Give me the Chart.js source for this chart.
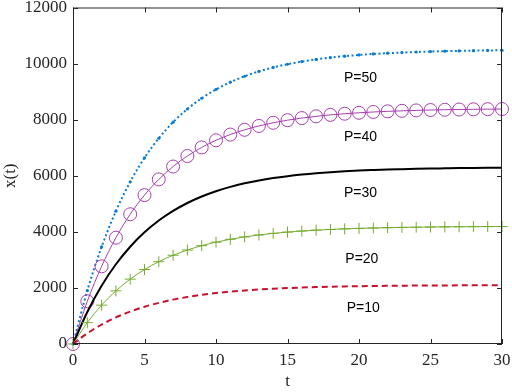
<!DOCTYPE html>
<html>
<head>
<meta charset="utf-8">
<script src="https://cdn.jsdelivr.net/npm/chart.js@4"></script>
<style>
  html, body { margin: 0; padding: 0; background: #fff; }
  #wrap { width: 512px; height: 392px; }
</style>
</head>
<body>
<div id="wrap"><canvas id="trendChart"></canvas></div>
<script>
// time points
const tValues = [0,1,2,3,4,5,6,7,8,9,10,11,12,13,14,15,16,17,18,19,20,21,22,23,24,25,26,27,28,29,30];

// x(t) for each P
const p10 = [0,381,692,948,1156,1327,1467,1582,1676,1753,1816,1867,1910,1944,1972,1995,2014,2030,2043,2053,2062,2069,2074,2079,2083,2086,2088,2091,2092,2094,2095];
const p20 = [0,761,1385,1895,2313,2655,2935,3164,3352,3506,3632,3735,3819,3888,3945,3991,4029,4060,4085,4106,4123,4137,4148,4158,4165,4172,4177,4181,4185,4187,4190];
const p30 = [0,1142,2077,2843,3469,3982,4402,4746,5028,5259,5448,5602,5729,5832,5917,5986,6043,6090,6128,6159,6185,6205,6223,6236,6248,6258,6265,6272,6277,6281,6284];
const p40 = [0,1523,2769,3790,4626,5310,5870,6329,6704,7011,7264,7469,7638,7776,7889,7982,8057,8119,8171,8212,8246,8274,8297,8315,8331,8344,8354,8362,8369,8375,8379];
const p50 = [0,1904,3462,4738,5782,6637,7337,7911,8380,8764,9079,9337,9548,9721,9862,9977,10072,10149,10213,10265,10308,10343,10371,10394,10413,10429,10442,10452,10461,10468,10474];

// curve labels: text, t, x(t)
const labelText = ['P=50', 'P=40', 'P=30', 'P=20', 'P=10'];
const labelT = [20.1, 20.1, 20.1, 20.2, 20.3];
const labelY = [9470, 7370, 5370, 3020, 1280];

const xTicks = [0, 5, 10, 15, 20, 25, 30];
const yTicks = [0, 2000, 4000, 6000, 8000, 10000, 12000];

function toPoints(arr) {
    return arr.map((v, i) => ({ x: tValues[i], y: v }));
}

// box round the plot with inward ticks, plus curve labels
const boxPlugin = {
    id: 'boxPlugin',
    afterDraw(chart) {
        const ctx = chart.ctx;
        const a = chart.chartArea;
        const xs = chart.scales.x;
        const ys = chart.scales.y;
        ctx.save();
        ctx.strokeStyle = '#262626';
        ctx.lineWidth = 1;
        ctx.strokeRect(a.left + 0.5, a.top + 0.5, a.right - a.left - 1, a.bottom - a.top - 1);
        ctx.beginPath();
        xTicks.forEach(v => {
            const px = Math.round(xs.getPixelForValue(v)) + 0.5;
            ctx.moveTo(px, a.bottom); ctx.lineTo(px, a.bottom - 5);
            ctx.moveTo(px, a.top); ctx.lineTo(px, a.top + 5);
        });
        yTicks.forEach(v => {
            const py = Math.round(ys.getPixelForValue(v)) + 0.5;
            ctx.moveTo(a.left, py); ctx.lineTo(a.left + 5, py);
            ctx.moveTo(a.right, py); ctx.lineTo(a.right - 5, py);
        });
        ctx.stroke();

        ctx.fillStyle = '#000';
        ctx.font = '14px "Liberation Sans", Arial, sans-serif';
        ctx.textAlign = 'center';
        ctx.textBaseline = 'middle';
        labelText.forEach((txt, i) => {
            ctx.fillText(txt, xs.getPixelForValue(labelT[i]), ys.getPixelForValue(labelY[i]));
        });
        ctx.restore();
    }
};

const serif = '"Liberation Serif", "Times New Roman", serif';

new Chart(document.getElementById('trendChart').getContext('2d'), {
    type: 'line',
    data: {
        datasets: [
            {
                label: 'P=10',
                data: toPoints(p10),
                borderColor: '#C8102E',
                borderWidth: 2,
                borderDash: [6, 4],
                pointRadius: 0,
                fill: false
            },
            {
                label: 'P=20',
                data: toPoints(p20),
                borderColor: '#77AC30',
                borderWidth: 1,
                pointStyle: 'cross',
                pointRadius: 5.5,
                pointBorderWidth: 1,
                fill: false
            },
            {
                label: 'P=30',
                data: toPoints(p30),
                borderColor: '#000000',
                borderWidth: 2,
                pointRadius: 0,
                fill: false
            },
            {
                label: 'P=40',
                data: toPoints(p40),
                borderColor: '#A63FAE',
                borderWidth: 1,
                pointStyle: 'circle',
                pointRadius: 6.5,
                pointBorderWidth: 1,
                pointBackgroundColor: 'rgba(0,0,0,0)',
                fill: false
            },
            {
                label: 'P=50',
                data: toPoints(p50),
                borderColor: '#0A7BD0',
                borderWidth: 2,
                borderDash: [2, 2.5],
                pointStyle: 'circle',
                pointRadius: 1.6,
                pointBorderWidth: 0,
                pointBackgroundColor: '#0A7BD0',
                fill: false
            }
        ]
    },
    options: {
        responsive: true,
        maintainAspectRatio: false,
        animation: false,
        cubicInterpolationMode: 'monotone',
        clip: 10,
        layout: { padding: { top: 7, right: 10, left: 0, bottom: 0 } },
        plugins: {
            legend: { display: false },
            tooltip: { enabled: false }
        },
        scales: {
            x: {
                type: 'linear',
                min: 0,
                max: 30,
                afterFit(scale) { scale.height = 48; scale.paddingRight = 0; scale.paddingLeft = 0; },
                afterBuildTicks(scale) { scale.ticks = xTicks.map(v => ({ value: v })); },
                grid: { display: false, drawTicks: false },
                border: { display: false },
                ticks: { color: '#262626', padding: 6, font: { family: serif, size: 17 }, maxRotation: 0,
                         callback: v => String(v) },
                title: { display: true, text: 't', color: '#262626', padding: { top: -2, bottom: 0 }, font: { family: serif, size: 17 } }
            },
            y: {
                min: 0,
                max: 12000,
                afterFit(scale) { scale.width = 73; scale.paddingTop = 0; scale.paddingBottom = 0; },
                afterBuildTicks(scale) { scale.ticks = yTicks.map(v => ({ value: v })); },
                grid: { display: false, drawTicks: false },
                border: { display: false },
                ticks: { color: '#262626', padding: 6, font: { family: serif, size: 17 },
                         callback: v => String(v) },
                title: { display: true, text: 'x(t)', color: '#262626', padding: { top: 0, bottom: 2 }, font: { family: serif, size: 17 } }
            }
        }
    },
    plugins: [boxPlugin]
});
</script>
</body>
</html>
